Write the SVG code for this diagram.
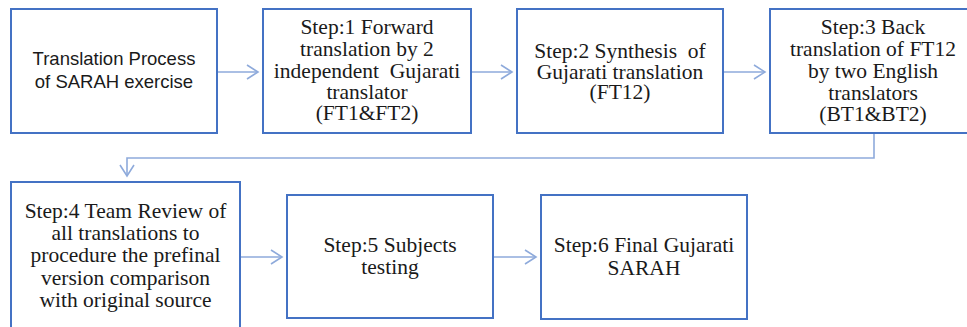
<svg xmlns="http://www.w3.org/2000/svg" width="967" height="327" viewBox="0 0 967 327">
<style>
.box{fill:#fff;stroke:#4472C4;stroke-width:2}
.conn{fill:none;stroke:#8EAADB;stroke-width:1.6}
text.rm{font-family:"Liberation Serif",serif;font-size:21.5px;fill:#1a1a1a;text-anchor:middle}
text.sn{font-family:"Liberation Sans",sans-serif;font-size:18.5px;fill:#1a1a1a;text-anchor:middle}
</style>
<defs>
<marker id="arr" markerUnits="userSpaceOnUse" markerWidth="16" markerHeight="18" refX="12" refY="8" orient="auto">
<path d="M1,1 L12,8 L1,15" fill="none" stroke="#8EAADB" stroke-width="1.6"/>
</marker>
</defs>
<rect width="967" height="327" fill="#fff"/>
<g id="connectors">
<line class="conn" x1="217" y1="72" x2="258" y2="72" marker-end="url(#arr)"/>
<line class="conn" x1="471" y1="72" x2="512" y2="72" marker-end="url(#arr)"/>
<line class="conn" x1="723" y1="72" x2="765" y2="72" marker-end="url(#arr)"/>
<path class="conn" d="M874,133 V158 H127 V176" marker-end="url(#arr)"/>
<line class="conn" x1="240" y1="257" x2="282" y2="257" marker-end="url(#arr)"/>
<line class="conn" x1="493" y1="257" x2="536" y2="257" marker-end="url(#arr)"/>
</g>
<g id="node0">
<rect class="box" x="11" y="9" width="206" height="124"/>
<text class="sn" x="114" y="65">Translation Process</text>
<text class="sn" x="114" y="88">of SARAH exercise</text>
</g>
<g id="node1">
<rect class="box" x="263" y="9" width="208" height="124"/>
<text class="rm" x="367" y="34">Step:1 Forward</text>
<text class="rm" x="367" y="56">translation by 2</text>
<text class="rm" x="367" y="78" xml:space="preserve">independent  Gujarati</text>
<text class="rm" x="367" y="99">translator</text>
<text class="rm" x="367" y="120">(FT1&amp;FT2)</text>
</g>
<g id="node2">
<rect class="box" x="517" y="9" width="206" height="124"/>
<text class="rm" x="620" y="58" xml:space="preserve">Step:2 Synthesis  of</text>
<text class="rm" x="620" y="79">Gujarati translation</text>
<text class="rm" x="620" y="99">(FT12)</text>
</g>
<g id="node3">
<rect class="box" x="770" y="9" width="206" height="124"/>
<text class="rm" x="873" y="34">Step:3 Back</text>
<text class="rm" x="873" y="56">translation of FT12</text>
<text class="rm" x="873" y="78">by two English</text>
<text class="rm" x="873" y="100">translators</text>
<text class="rm" x="873" y="121">(BT1&amp;BT2)</text>
</g>
<g id="node4">
<rect class="box" x="11" y="182" width="229" height="160"/>
<text class="rm" x="125.5" y="218">Step:4 Team Review of</text>
<text class="rm" x="125.5" y="240">all translations to</text>
<text class="rm" x="125.5" y="262">procedure the prefinal</text>
<text class="rm" x="125.5" y="285">version comparison</text>
<text class="rm" x="125.5" y="307">with original source</text>
</g>
<g id="node5">
<rect class="box" x="287" y="195" width="206" height="123"/>
<text class="rm" x="390" y="252">Step:5 Subjects</text>
<text class="rm" x="390" y="274">testing</text>
</g>
<g id="node6">
<rect class="box" x="541" y="195" width="206" height="124"/>
<text class="rm" x="644" y="252">Step:6 Final Gujarati</text>
<text class="rm" x="644" y="275">SARAH</text>
</g>
</svg>
